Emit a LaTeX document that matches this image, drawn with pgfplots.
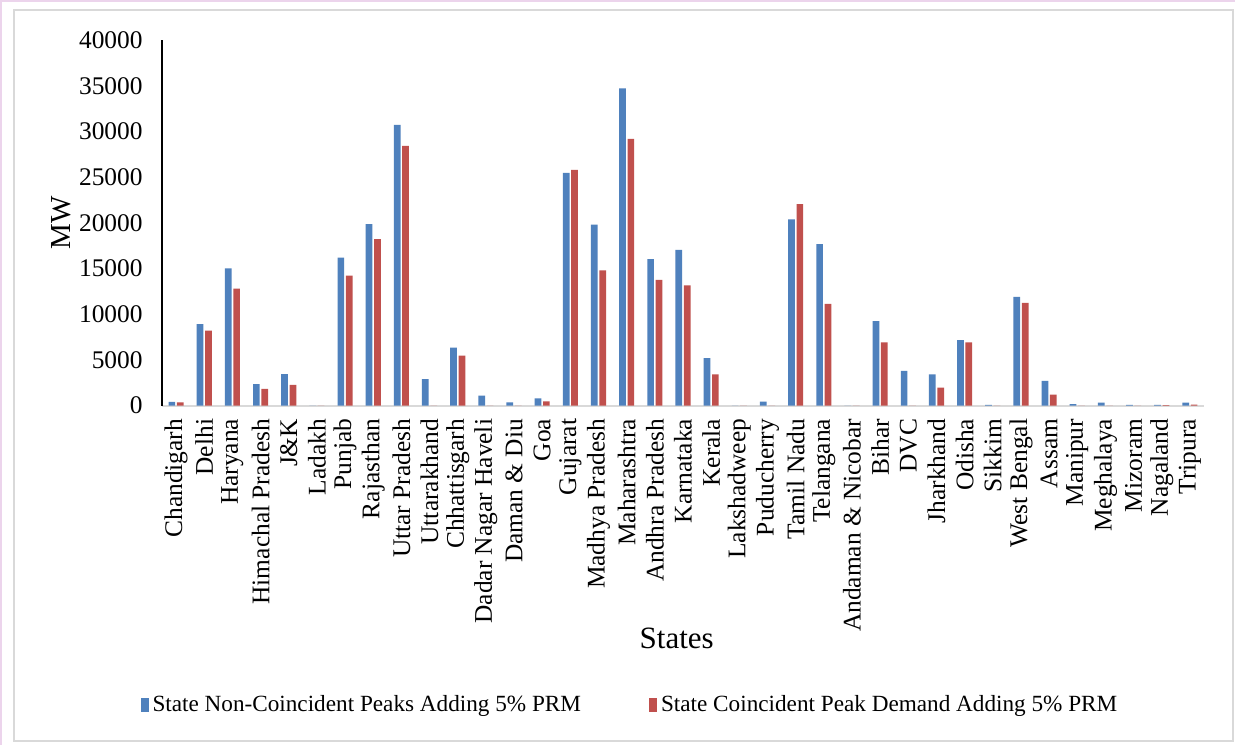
\documentclass[border=0pt]{standalone}
\usepackage{fontspec}
\setmainfont{Liberation Serif}
\usepackage{pgfplots}
\usepackage{pgfplotstable}
\pgfplotsset{compat=1.18}

\definecolor{ncblue}{RGB}{79,129,189}
\definecolor{cpred}{RGB}{192,80,77}
\definecolor{framegray}{RGB}{217,217,217}
\definecolor{edgepink}{RGB}{236,212,236}

% State-wise peak demand (MW), 5% planning reserve margin added
\pgfplotstableread{
x  nc     cp
0  400    350
1  8900   8200
2  15000  12800
3  2350   1830
4  3440   2270
5  0      0
6  16180  14210
7  19850  18220
8  30700  28420
9  2900   0
10 6340   5460
11 1080   0
12 330    0
13 790    460
14 25470  25790
15 19800  14800
16 34720  29180
17 16010  13740
18 17030  13160
19 5180   3420
20 0      0
21 420    0
22 20360  22040
23 17670  11120
24 0      0
25 9240   6900
26 3780   0
27 3420   1950
28 7160   6900
29 60     0
30 11880  11240
31 2690   1180
32 160    0
33 310    0
34 60     0
35 60     30
36 310    90
}\peaks

\begin{document}
\fontsize{12.7}{15}\selectfont
\begin{tikzpicture}
% chart area frame
\useasboundingbox (-81pt,-169.75pt) rectangle (536.5pt,202.75pt);
\fill[white] (-81pt,-169.75pt) rectangle (536.5pt,202.75pt);
\fill[edgepink] (-81pt,201.75pt) rectangle (536.5pt,202.75pt);
\fill[edgepink] (-81pt,-169.75pt) rectangle (-80pt,202.75pt);
\draw[framegray, line width=1pt] (-74pt,-167.75pt) rectangle (535.5pt,197.75pt);

\begin{axis}[
  at={(0pt,0pt)}, anchor=south west,
  width=521pt, height=182.75pt, scale only axis,
  ybar=0.85pt, bar width=3.35pt,
  xmin=-0.5, xmax=36.5,
  ymin=0, ymax=40000,
  ytick={0,5000,...,40000},
  xtick=data,
  xticklabels={Chandigarh, Delhi, Haryana, Himachal Pradesh, J\&K, Ladakh,
    Punjab, Rajasthan, Uttar Pradesh, Uttarakhand, Chhattisgarh,
    Dadar Nagar Haveli, Daman \& Diu, Goa, Gujarat, Madhya Pradesh,
    Maharashtra, Andhra Pradesh, Karnataka, Kerala, Lakshadweep,
    Puducherry, Tamil Nadu, Telangana, Andaman \& Nicobar, Bihar, DVC,
    Jharkhand, Odisha, Sikkim, West Bengal, Assam, Manipur, Meghalaya,
    Mizoram, Nagaland, Tripura},
  major tick length=0pt,
  axis x line*=bottom, axis y line*=left,
  x axis line style={draw=framegray, line width=1pt},
  y axis line style={draw=black, line width=1pt},
  scaled y ticks=false,
  /pgf/number format/.cd, 1000 sep={}, assume math mode=true, /pgfplots/.cd,
  xticklabel style={rotate=90, anchor=east, inner sep=0pt},
  xticklabel shift=6.5pt,
  yticklabel style={anchor=east, inner sep=0pt},
  yticklabel shift=9.5pt,
  ylabel={MW},
  ylabel style={at={(axis description cs:-0.097,0.5)}, anchor=center,
    font=\fontsize{14.5}{17}\selectfont},
  xlabel={States},
  xlabel style={at={(axis description cs:0.494,-0.636)}, anchor=center,
    font=\fontsize{15.5}{18}\selectfont},
  legend columns=2,
  legend style={at={(axis description cs:0.45,-0.8194)}, anchor=center,
    draw=none, fill=none, inner sep=0pt,
    font=\fontsize{11.6}{14}\selectfont,
    /tikz/every even column/.append style={column sep=32pt}},
  legend cell align=left,
  legend image code/.code={\fill[#1] (0pt,-3.5pt) rectangle (4pt,3.5pt);},
]
\addplot[fill=ncblue, draw=none] table[x=x, y=nc] {\peaks};
\addplot[fill=cpred, draw=none] table[x=x, y=cp] {\peaks};
\legend{State Non-Coincident Peaks Adding 5\% PRM, State Coincident Peak Demand Adding 5\% PRM}
\end{axis}
\end{tikzpicture}
\end{document}
